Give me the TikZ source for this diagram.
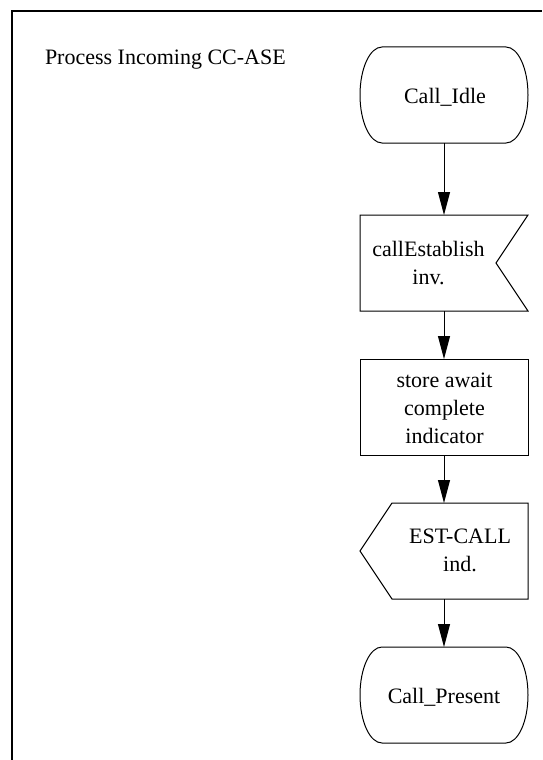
\documentclass[tikz,border=0pt]{standalone}
\usepackage{fontspec}
\setmainfont{Liberation Serif}
\usetikzlibrary{arrows.meta,calc}
\tikzset{
  shp/.style={minimum width=168pt,minimum height=96pt,inner sep=0pt,outer sep=0pt,draw=none},
  txt/.style={inner sep=0pt,outer sep=0pt,align=center,font=\fontsize{22}{28}\selectfont},
  outl/.style={draw=black,line width=1pt},
  arr/.style={draw=black,line width=1pt,-{Triangle[length=23pt,width=12pt]}},
  frame/.style={draw=black,line width=2pt}
}
\newcommand\mystate[1]{%
  \draw[outl] ([xshift=22pt]#1.north west) -- ([xshift=-22pt]#1.north east)
    arc[start angle=90,end angle=0,x radius=22pt,y radius=48pt]
    arc[start angle=0,end angle=-90,x radius=22pt,y radius=48pt]
    -- ([xshift=22pt]#1.south west)
    arc[start angle=270,end angle=180,x radius=22pt,y radius=48pt]
    arc[start angle=180,end angle=90,x radius=22pt,y radius=48pt] -- cycle;}
\begin{document}
\begin{tikzpicture}[x=1pt,y=1pt]
\useasboundingbox (0,0) rectangle (542,-760);
\fill[white] (0,0) rectangle (542,-760);
\draw[frame] (12,-760) -- (12,-11) -- (542,-11);
\node[txt,anchor=base west] (title) at (45,-65) {Process Incoming CC-ASE};

\node[shp] (idle) at (444,-95) {};
\node[shp] (inv) at (444,-263) {};
\node[shp] (store) at (444,-407) {};
\node[shp] (est) at (444,-551) {};
\node[shp] (present) at (444,-695) {};

\mystate{idle}
\mystate{present}
\draw[outl] (inv.north west) -- (inv.north east) -- ([xshift=-32pt]inv.east) -- (inv.south east) -- (inv.south west) -- cycle;
\draw[outl] (store.north west) rectangle (store.south east);
\draw[outl] ([xshift=32pt]est.north west) -- (est.north east) -- (est.south east) -- ([xshift=32pt]est.south west) -- (est.west) -- cycle;

\node[txt] (idleT) at (445,-97.5) {Call\_Idle};
\node[txt] (invT) at (428.5,-263.5) {callEstablish\\inv.};
\node[txt] (storeT) at (444.5,-408) {store await\\complete\\indicator};
\node[txt] (estT) at (460,-550.7) {EST-CALL\\ind.};
\node[txt] (presentT) at (444,-697.5) {Call\_Present};

\draw[arr] (idle) -- (inv);
\draw[arr] (inv) -- (store);
\draw[arr] (store) -- (est);
\draw[arr] (est) -- (present);
\end{tikzpicture}
\end{document}
